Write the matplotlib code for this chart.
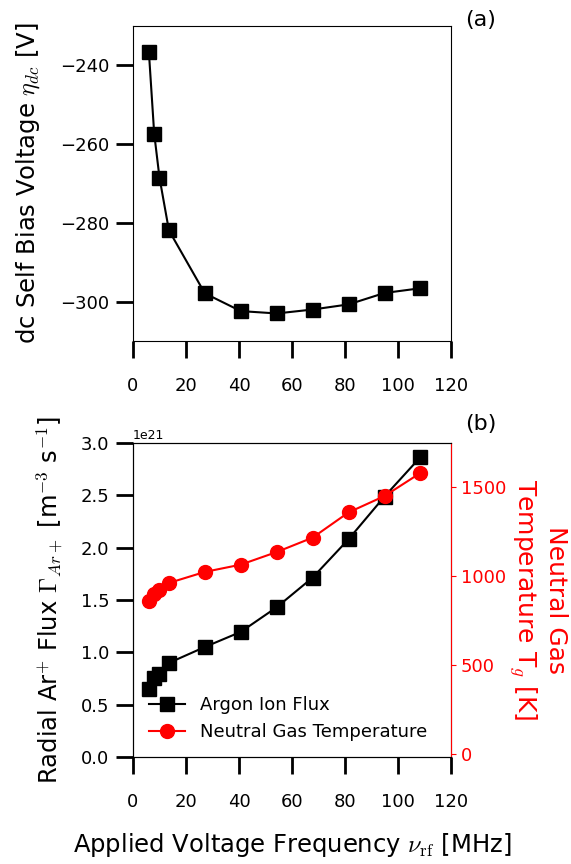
import matplotlib
matplotlib.use('Agg')
import matplotlib.pyplot as plt

plt.rcParams['mathtext.fontset'] = 'cm'
plt.rcParams['mathtext.rm'] = 'serif'

# Frecuencias aplicadas [MHz]
frecuencia = [6, 8, 10, 13.56, 27.12, 40.68, 54.24, 67.8, 81.36, 94.92, 108.48]

# (a) voltaje de auto-polarización dc [V]
voltaje_dc = [-236.6, -257.3, -268.5, -281.9, -297.9, -302.4, -303.0,
              -302.0, -300.7, -297.8, -296.6]

# (b) flujo radial de iones Ar+ [1e21 m^-3 s^-1] y temperatura del gas [K]
flujo_ar = [0.649, 0.754, 0.795, 0.90, 1.052, 1.196, 1.431, 1.714, 2.08,
            2.487, 2.863]
temperatura_gas = [861, 897, 921, 961, 1023, 1064, 1135, 1216, 1358, 1450,
                   1580]

xticks = [0, 20, 40, 60, 80, 100, 120]
yticks_a = [-300, -280, -260, -240]
yticks_b = [0.0, 0.5, 1.0, 1.5, 2.0, 2.5, 3.0]
yticks_t = [0, 500, 1000, 1500]

fig = plt.figure(figsize=(5.71, 8.64), dpi=100)
ax1 = fig.add_axes([0.2329, 0.6053, 0.5569, 0.3646])
ax2 = fig.add_axes([0.2329, 0.1235, 0.5569, 0.3641])

label_size = 17.5
tick_size = 13

# Panel (a)
ax1.plot(frecuencia, voltaje_dc, 'ks-', markersize=9.5, linewidth=1.5)
ax1.set_xlim(0, 120)
ax1.set_ylim(-310, -230)
ax1.set_xticks(xticks)
ax1.set_yticks(yticks_a)
ax1.tick_params(axis='both', length=12, width=2, labelsize=tick_size)
ax1.tick_params(axis='x', pad=14)
ax1.tick_params(axis='y', pad=5)
ax1.set_ylabel(r'dc Self Bias Voltage $\eta_{dc}$ [V]', fontsize=label_size,
               labelpad=13)

# Panel (b)
flujo = [f * 1e21 for f in flujo_ar]
l1, = ax2.plot(frecuencia, flujo, 'ks-', markersize=9.5, linewidth=1.5,
               label='Argon Ion Flux')
ax2.set_xlim(0, 120)
ax2.set_ylim(0, 3e21)
ax2.set_xticks(xticks)
ax2.set_yticks([v * 1e21 for v in yticks_b])
ax2.tick_params(axis='both', length=12, width=2, labelsize=tick_size)
ax2.tick_params(axis='x', pad=14)
ax2.tick_params(axis='y', pad=5)
ax2.yaxis.get_offset_text().set_fontsize(9)
ax2.set_ylabel(r'Radial Ar$^{+}$ Flux $\Gamma_{Ar+}$ [m$^{-3}$ s$^{-1}$]',
               fontsize=label_size, labelpad=11)
ax2.set_xlabel(r'Applied Voltage Frequency $\nu_{\rm rf}$ [MHz]',
               fontsize=label_size, labelpad=14)

ax3 = ax2.twinx()
l2, = ax3.plot(frecuencia, temperatura_gas, 'o-', color='red', markersize=10,
               linewidth=1.5, label='Neutral Gas Temperature')
ax3.set_ylim(-20, 1750)
ax3.set_yticks(yticks_t)
ax3.tick_params(axis='y', colors='red', labelsize=tick_size)
ax3.spines['right'].set_color('red')
ax3.set_ylabel('Neutral Gas\nTemperature T$_g$ [K]', color='red',
               fontsize=18, rotation=270, va='bottom', labelpad=1)

ax3.legend([l1, l2], ['Argon Ion Flux', 'Neutral Gas Temperature'],
           loc='lower left', frameon=False, fontsize=tick_size)

fig.text(481 / 571, 1 - 20 / 864, '(a)', fontsize=16, ha='center', va='center')
fig.text(481 / 571, 1 - 424 / 864, '(b)', fontsize=16, ha='center', va='center')

plt.savefig('out.png', dpi=100)
